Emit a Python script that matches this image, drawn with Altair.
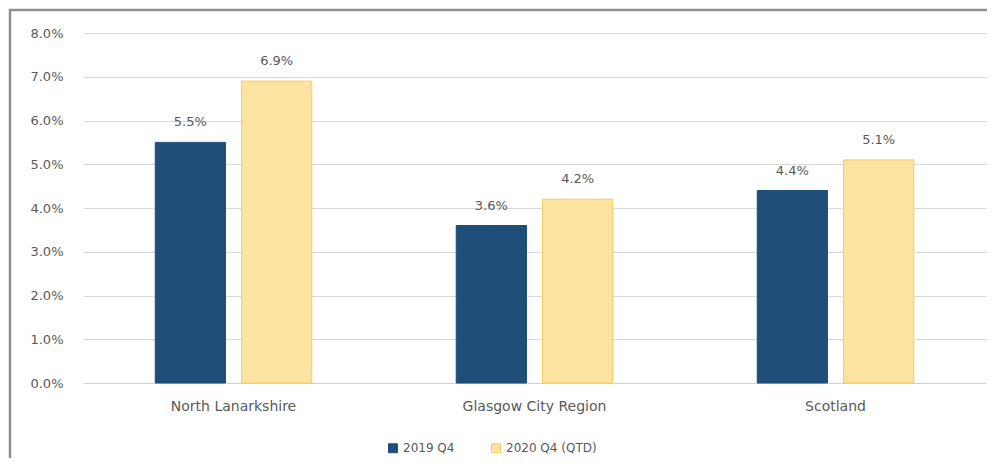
import altair as alt
import pandas as pd

regions = ["North Lanarkshire", "Glasgow City Region", "Scotland"]
series = ["2019 Q4", "2020 Q4 (QTD)"]
values_2019 = [0.055, 0.036, 0.044]
values_2020 = [0.069, 0.042, 0.051]
y_ticks = [0.0, 0.01, 0.02, 0.03, 0.04, 0.05, 0.06, 0.07, 0.08]

fill_colors = ["#1f4e79", "#fde3a0"]
stroke_colors = ["#1f4e79", "#f7cb5a"]

rows = []
for r, v in zip(regions, values_2019):
    rows.append({"region": r, "series": series[0], "value": v})
for r, v in zip(regions, values_2020):
    rows.append({"region": r, "series": series[1], "value": v})
df = pd.DataFrame(rows)

TXT = "#595959"
FONT = "DejaVu Sans"

x_enc = alt.X(
    "region:N",
    sort=regions,
    scale=alt.Scale(paddingInner=0.48, paddingOuter=0.24),
    axis=alt.Axis(
        title=None, labelAngle=0, ticks=False, labelPadding=16,
        labelFontSize=14, labelColor=TXT, domainColor="#d0d0d0",
        labelFont=FONT, grid=False,
    ),
)
xoff_enc = alt.XOffset(
    "series:N", sort=series,
    scale=alt.Scale(paddingInner=0.186, paddingOuter=0),
)
y_enc = alt.Y(
    "value:Q",
    scale=alt.Scale(domain=[0, 0.08], nice=False),
    axis=alt.Axis(
        values=y_ticks, format=".1%", title=None, domain=False, ticks=False,
        labelPadding=20, labelFontSize=13, labelColor=TXT, labelFont=FONT,
        gridColor="#d9d9d9", gridWidth=1,
    ),
)

legend = alt.Legend(
    title=None, orient="none", legendX=304, legendY=409,
    direction="horizontal", symbolType="square", symbolSize=80,
    labelFontSize=12, labelColor=TXT, labelFont=FONT,
    columnPadding=34, symbolStrokeWidth=1,
)

base = alt.Chart(df)

bars = base.mark_bar(strokeWidth=1).encode(
    x=x_enc,
    xOffset=xoff_enc,
    y=y_enc,
    fill=alt.Fill("series:N", sort=series,
                  scale=alt.Scale(domain=series, range=fill_colors), legend=legend),
    stroke=alt.Stroke("series:N", sort=series,
                      scale=alt.Scale(domain=series, range=stroke_colors), legend=legend),
)

labels = base.mark_text(
    dy=-20, baseline="middle", fontSize=13, color=TXT, font=FONT
).encode(
    x=x_enc,
    xOffset=xoff_enc,
    y=y_enc,
    text=alt.Text("value:Q", format=".1%"),
)

border = alt.Chart(pd.DataFrame({"k": [0]})).mark_rect(
    fill="transparent", stroke="#8f8f8f", strokeWidth=2.5
).encode(
    x=alt.value(-73), x2=alt.value(1000), y=alt.value(-23), y2=alt.value(600)
)

chart = alt.layer(border, bars, labels).properties(
    width=903, height=350,
    padding={"left": 75, "top": 25, "right": 1, "bottom": 75},
    autosize="none",
    background="white",
).configure(
    font=FONT,
    view=alt.ViewConfig(strokeWidth=0, strokeOpacity=0),
)

chart.save("out.html", embed_options={"renderer": "svg", "actions": False})
